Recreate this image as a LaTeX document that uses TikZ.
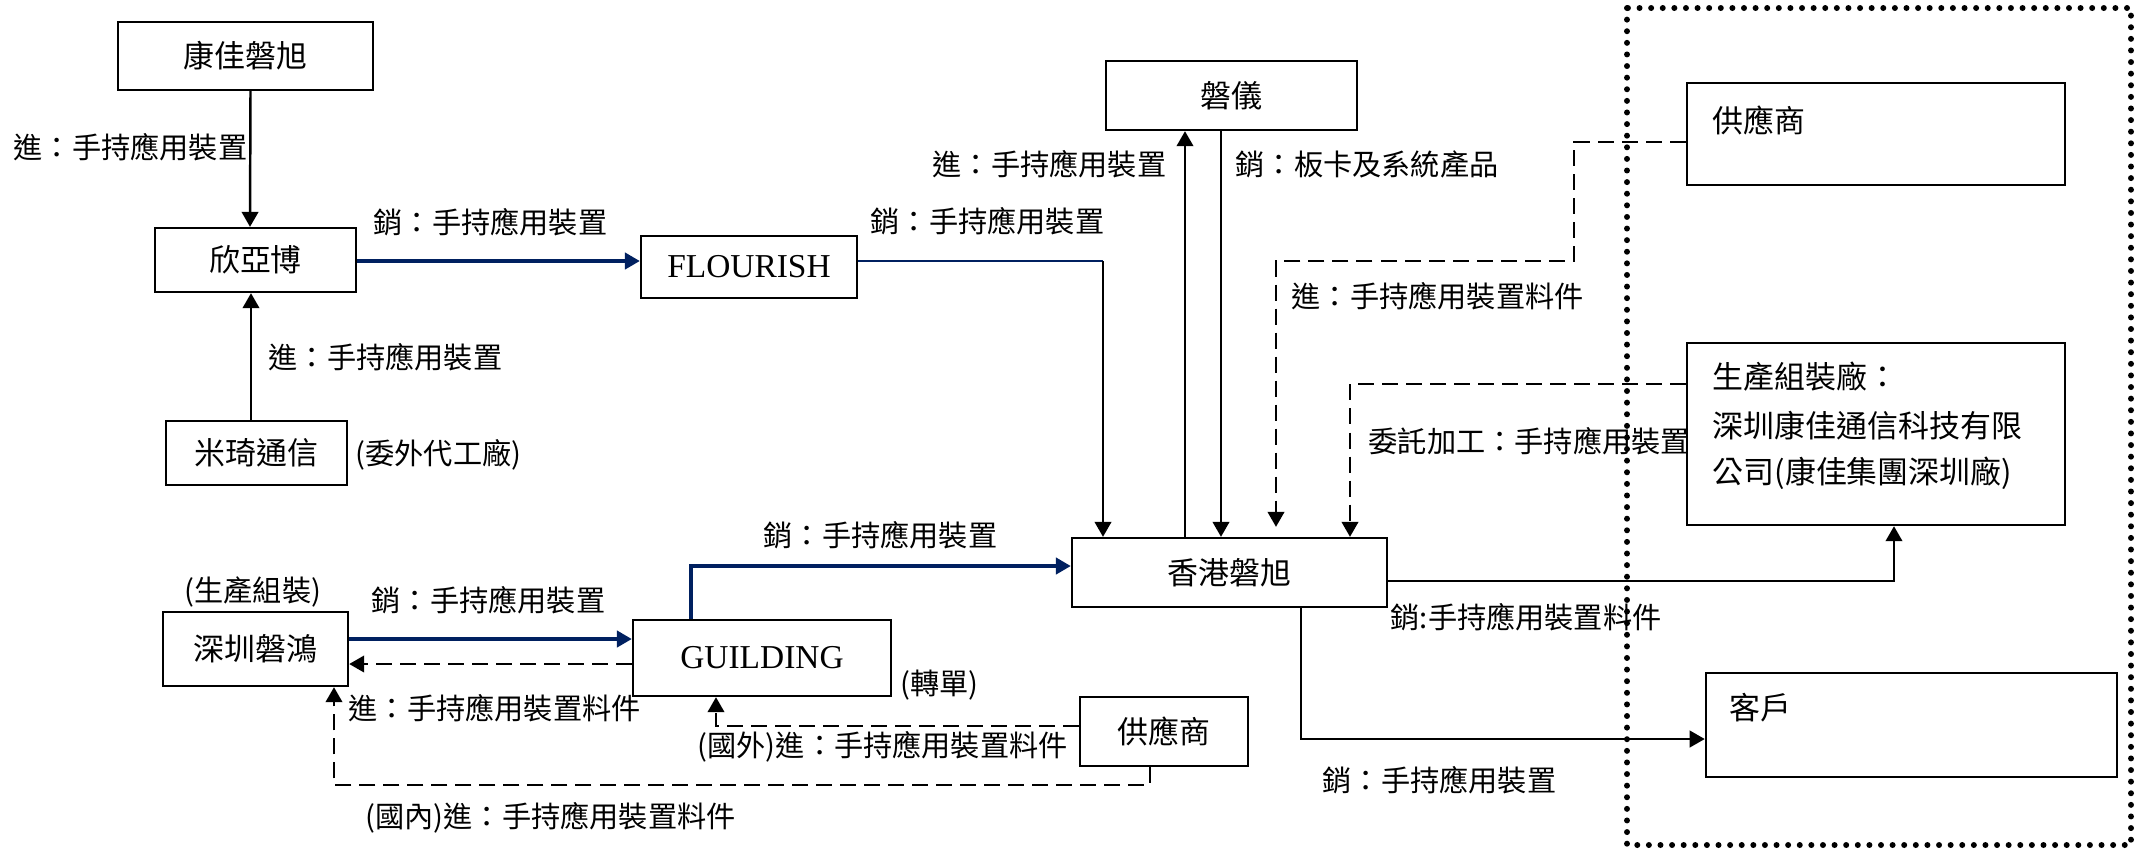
\documentclass[tikz,border=0pt]{standalone}
\usepackage{fontspec}
\setmainfont{Liberation Serif}
\newfontfamily\cjk{Noto Sans CJK TC}
\usetikzlibrary{arrows.meta}
\definecolor{navy}{RGB}{0,32,96}
\begin{document}
\begin{tikzpicture}[x=0.01cm,y=-0.01cm,
  box/.style={draw,line width=0.65pt,inner sep=0pt,font=\cjk\fontsize{8.8}{10}\selectfont},
  latbox/.style={draw,line width=0.65pt,inner sep=0pt,font=\fontsize{9.5}{11}\selectfont},
  lbl/.style={anchor=west,inner sep=0pt,font=\cjk\fontsize{8.3}{10}\selectfont},
  inl/.style={anchor=west,inner sep=0pt,font=\cjk\fontsize{8.8}{10}\selectfont},
  tip/.style={-{Triangle[length=0.15cm,width=0.165cm]}},
  arr/.style={line width=0.7pt,tip},
  barr/.style={line width=0.9pt,draw=navy,-{Triangle[length=0.15cm,width=0.165cm,fill=navy]}},
  bline/.style={line width=0.8pt,draw=navy},
  darr/.style={line width=0.7pt,dash pattern=on 0.16cm off 0.08cm,tip},
  frame/.style={line width=1.7pt,dash pattern=on 0pt off 0.116cm,line cap=round}
]
\useasboundingbox (0,0) rectangle (2147,850);

% boxes
\node[box,minimum width=2.55cm,minimum height=0.68cm] (kjpx) at (245.5,56) {康佳磐旭};
\node[box,minimum width=2.01cm,minimum height=0.64cm] (xyb) at (255.5,260) {欣亞博};
\node[latbox,minimum width=2.16cm,minimum height=0.62cm] (flourish) at (749,267) {FLOURISH};
\node[box,minimum width=1.81cm,minimum height=0.64cm] (mqtx) at (256.5,453) {米琦通信};
\node[box,minimum width=2.51cm,minimum height=0.69cm] (py) at (1231.5,95.5) {磐儀};
\node[box,minimum width=3.15cm,minimum height=0.69cm] (hkpx) at (1229.5,572.5) {香港磐旭};
\node[box,minimum width=1.85cm,minimum height=0.74cm] (szph) at (255.5,649) {深圳磐鴻};
\node[latbox,minimum width=2.58cm,minimum height=0.76cm] (guilding) at (762,658) {GUILDING};
\node[box,minimum width=1.68cm,minimum height=0.69cm] (supb) at (1164,731.5) {供應商};
\node[box,minimum width=3.78cm,minimum height=1.02cm] (supr) at (1876,134) {};
\node[box,minimum width=3.78cm,minimum height=1.82cm] (fac) at (1876,434) {};
\node[box,minimum width=4.11cm,minimum height=1.04cm] (cust) at (1911.5,725) {};

\node[inl] (suprt) at (1712,120) {供應商};
\node[inl] (fact1) at (1712,377) {生產組裝廠：};
\node[inl] (fact2) at (1712,426) {深圳康佳通信科技有限};
\node[inl] (fact3) at (1712,473) {公司(康佳集團深圳廠)};
\node[inl] (custt) at (1729,708) {客戶};

% dotted frame
\draw[frame] (1627,8) rectangle (2131,845);

% helper coordinates
\coordinate (f1) at (1103,261);
\coordinate (p1) at (1185,0);
\coordinate (p2) at (1221,0);
\coordinate (d1) at (1574,142);
\coordinate (d2) at (1276,261);
\coordinate (d3) at (1350,384);
\coordinate (e1) at (1894,581);
\coordinate (e2) at (1301,739);
\coordinate (g1) at (0,639);
\coordinate (g0) at (0,664);
\coordinate (g2) at (691,566);
\coordinate (g3) at (716,726);
\coordinate (g4) at (1150,785);
\coordinate (g5) at (334,785);
\coordinate (y1) at (0,261);

% connectors
\draw[arr] ([xshift=0.05cm]kjpx.south) -- ([xshift=-0.055cm]xyb.north);
\draw[arr] ([xshift=-0.055cm]mqtx.north) -- ([xshift=-0.045cm]xyb.south);
\draw[barr] (xyb.east |- y1) -- (flourish.west |- y1);
\draw[bline] (flourish.east |- f1) -- (f1);
\draw[arr] (f1) -- (f1 |- hkpx.north);
\draw[arr] (hkpx.north -| p1) -- (py.south -| p1);
\draw[arr] (py.south -| p2) -- (hkpx.north -| p2);
\draw[darr] (supr.west |- d1) -- (d1) |- (d2) -- ([yshift=0.1cm]d2 |- hkpx.north);
\draw[darr] (fac.west |- d3) -- (d3) -- (d3 |- hkpx.north);
\draw[arr] (hkpx.east |- e1) -- (e1) -- (e1 |- fac.south);
\draw[arr] (hkpx.south -| e2) -- (e2) -- (e2 -| cust.west);
\draw[barr] (szph.east |- g1) -- (guilding.west |- g1);
\draw[darr] (guilding.west |- g0) -- (szph.east |- g0);
\draw[barr] (guilding.north -| g2) -- (g2) -- (g2 -| hkpx.west);
\draw[darr] (supb.west |- g3) -- (g3) -- (g3 |- guilding.south);
\draw[darr] (supb.south -| g4) -- (g4) -- (g5) -- (g5 |- szph.south);

% labels
\node[lbl] (l1) at (13,147) {進：手持應用裝置};
\node[lbl] (l2) at (373,222) {銷：手持應用裝置};
\node[lbl] (l3) at (268,357) {進：手持應用裝置};
\node[lbl] (l4) at (355,455) {(委外代工廠)};
\node[lbl] (l5) at (870,221) {銷：手持應用裝置};
\node[lbl] (l6) at (932,164) {進：手持應用裝置};
\node[lbl] (l7) at (1235,164) {銷：板卡及系統產品};
\node[lbl] (l8) at (1291,296) {進：手持應用裝置料件};
\node[lbl] (l9) at (1368,441) {委託加工：手持應用裝置};
\node[lbl] (l10) at (1390,617) {銷:手持應用裝置料件};
\node[lbl] (l11) at (1322,780) {銷：手持應用裝置};
\node[lbl] (l12) at (184,592) {(生產組裝)};
\node[lbl] (l13) at (371,600) {銷：手持應用裝置};
\node[lbl] (l14) at (348,708) {進：手持應用裝置料件};
\node[lbl] (l15) at (763,535) {銷：手持應用裝置};
\node[lbl] (l16) at (900,685) {(轉單)};
\node[lbl] (l17) at (697,747) {(國外)進：手持應用裝置料件};
\node[lbl] (l18) at (365,818) {(國內)進：手持應用裝置料件};
\end{tikzpicture}
\end{document}
